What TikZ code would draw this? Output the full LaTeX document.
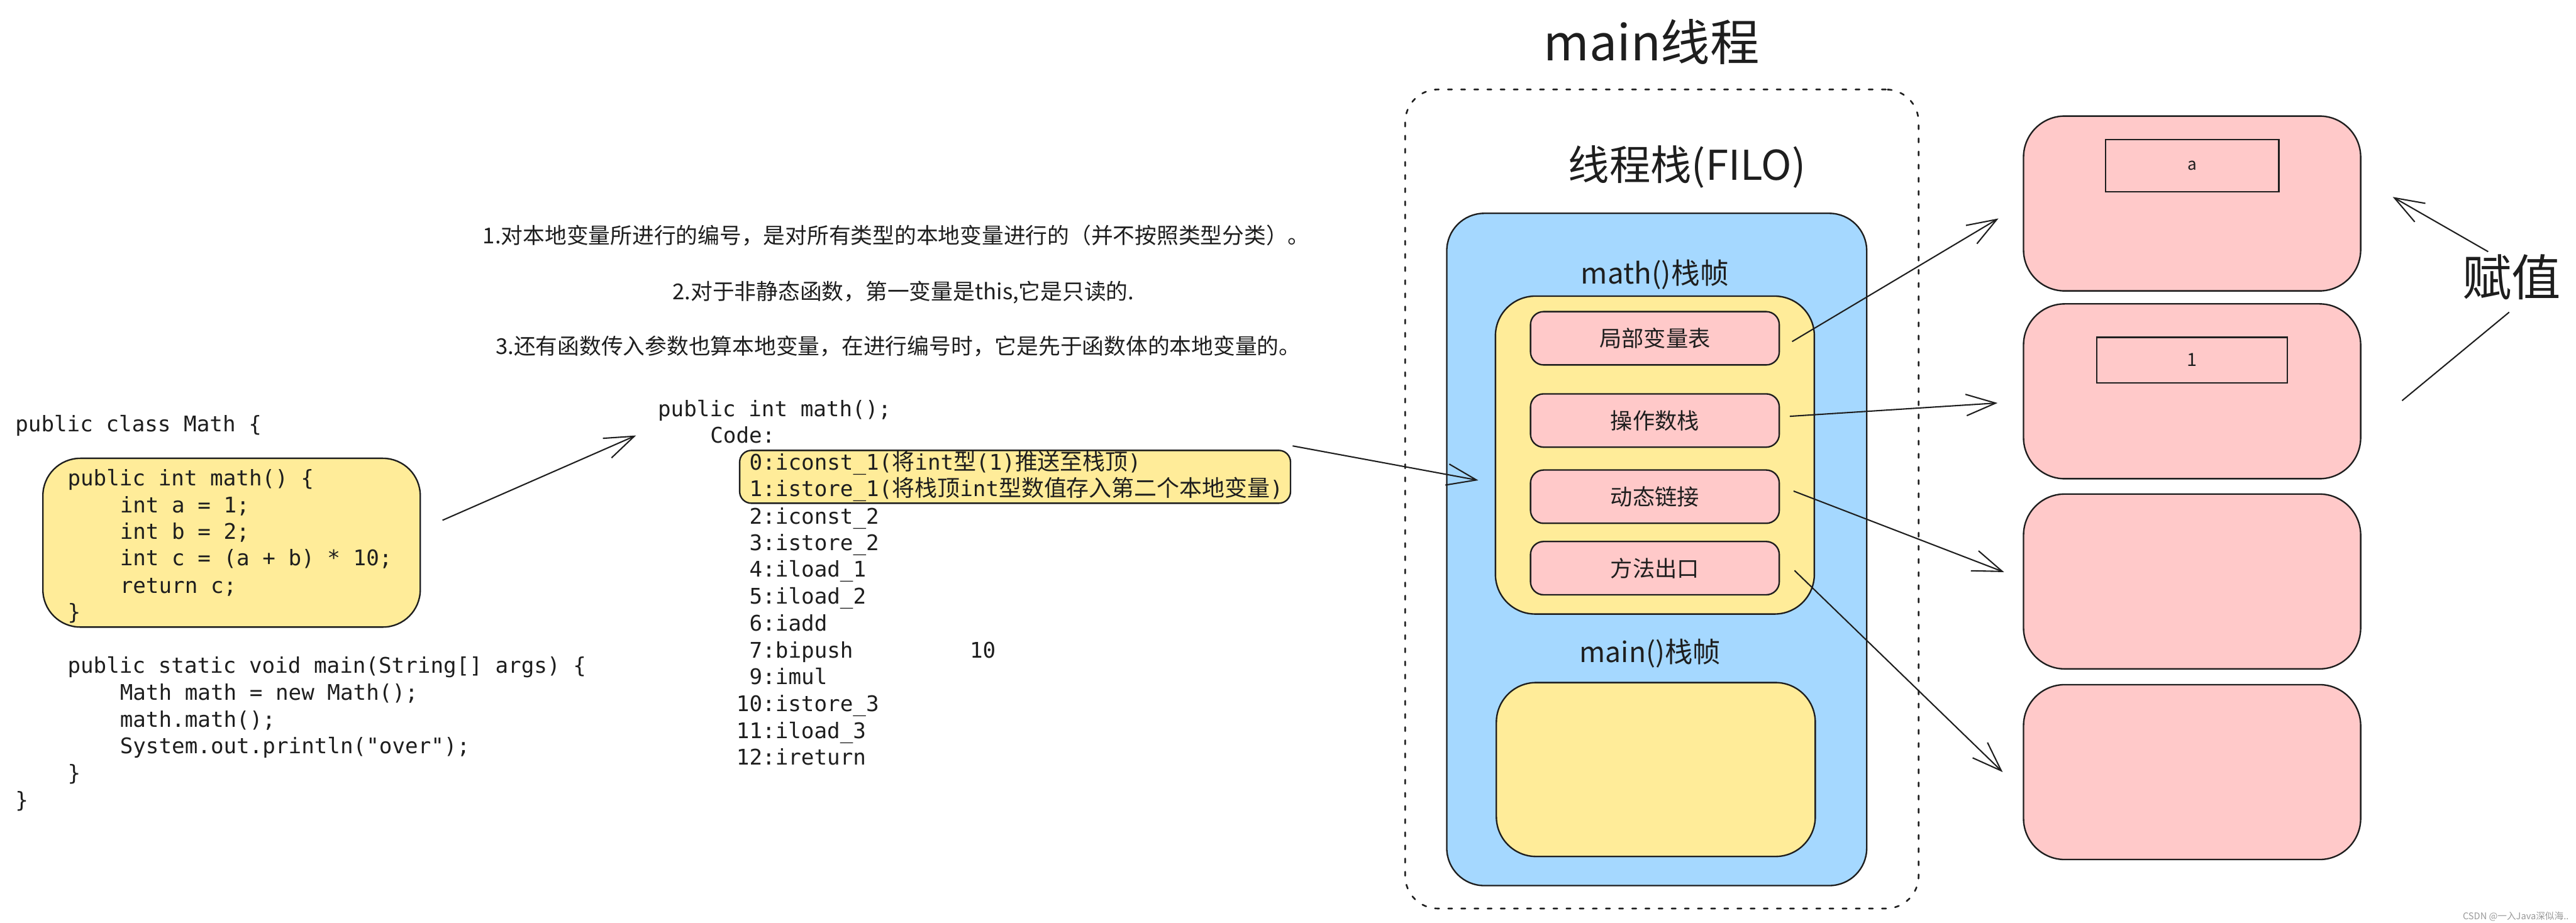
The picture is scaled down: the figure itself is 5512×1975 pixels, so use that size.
\documentclass[tikz,border=0pt]{standalone}
\usepackage{fontspec}
\usetikzlibrary{arrows.meta,calc}
\newfontfamily\cjk{Noto Sans CJK SC}
\newfontfamily\codefont{DejaVu Sans Mono}
\newfontfamily\codecjk[Scale=1.05]{Noto Sans CJK SC}
\newcommand\cc[1]{{\codecjk #1}}
\definecolor{inkc}{HTML}{1E1E1E}
\definecolor{exyellow}{HTML}{FFEC99}
\definecolor{exblue}{HTML}{A5D8FF}
\definecolor{expink}{HTML}{FFC9C9}
\tikzset{
  boxline/.style={draw=inkc, line width=0.9pt},
  yellowbox/.style={boxline, fill=exyellow, rounded corners=0.8cm, inner sep=0pt},
  bluebox/.style={boxline, fill=exblue, rounded corners=0.8cm, inner sep=0pt},
  pinkbox/.style={boxline, fill=expink, rounded corners=0.28cm, inner sep=0pt,
    minimum width=5.32cm, minimum height=1.14cm, text=inkc,
    font={\cjk\fontsize{13.5pt}{16pt}\selectfont}},
  slotbox/.style={boxline, fill=expink, rounded corners=0.88cm, inner sep=0pt,
    minimum width=7.21cm, minimum height=3.74cm},
  valbox/.style={draw=inkc, line width=0.8pt, inner sep=0pt, text=inkc},
  dotbox/.style={draw=inkc, line width=1pt, dash pattern=on 2.5pt off 5.5pt,
    line cap=round, rounded corners=0.7cm, inner sep=0pt},
  codeline/.style={anchor=base west, inner sep=0pt, text=inkc,
    font={\codefont\fontsize{13.1pt}{16pt}\selectfont}},
  note/.style={anchor=base, inner sep=0pt, text=inkc,
    font={\cjk\fontsize{13.3pt}{16pt}\selectfont}},
  title/.style={anchor=base, inner sep=0pt, text=inkc},
  link/.style={draw=inkc, line width=0.8pt, -{Straight Barb[length=18pt,width=13pt]}},
  plainlink/.style={draw=inkc, line width=0.8pt},
}
\begin{document}
\begin{tikzpicture}[x=0.01cm, y=-0.01cm]
\fill[white] (0,0) rectangle (5512,1975);
\useasboundingbox (0,0) rectangle (5512,1975);

% ---------- left source code ----------
\node[yellowbox, minimum width=8.07cm, minimum height=3.61cm] (codebox) at (495.5,1161.5) {};
\node[codeline] (l0) at (32,924) {public class Math \{};
\node[codeline] (l1) at (144,1039) {public int math() \{};
\node[codeline] (l2) at (256,1097) {int a = 1;};
\node[codeline] (l3) at (256,1154) {int b = 2;};
\node[codeline] (l4) at (256,1211) {int c = (a + b) * 10;};
\node[codeline] (l5) at (256,1269) {return c;};
\node[codeline] (l6) at (144,1326) {\}};
\node[codeline] (l7) at (144,1441) {public static void main(String[] args) \{};
\node[codeline] (l8) at (256,1498) {Math math = new Math();};
\node[codeline] (l9) at (256,1556) {math.math();};
\node[codeline] (l10) at (256,1613) {System.out.println("over");};
\node[codeline] (l11) at (144,1670) {\}};
\node[codeline] (l12) at (32,1728) {\}};

% ---------- notes ----------
\node[note] (n1) at (1918,522) {1.对本地变量所进行的编号，是对所有类型的本地变量进行的（并不按照类型分类）。};
\node[note] (n2) at (1933,641) {2.对于非静态函数，第一变量是this,它是只读的.};
\node[note] (n3) at (1922,758) {3.还有函数传入参数也算本地变量，在进行编号时，它是先于函数体的本地变量的。};

% ---------- bytecode ----------
\node[boxline, fill=exyellow, rounded corners=0.25cm, inner sep=0pt,
      minimum width=11.78cm, minimum height=1.13cm] (hl) at (2172,1020.5) {};
\node[codeline] (b0) at (1407,891) {public int math();};
\node[codeline] (b1) at (1519,948) {Code:};
\node[codeline] (b2) at (1603,1006) {0:iconst\_1(\cc{将}int\cc{型}(1)\cc{推送至栈顶})};
\node[codeline] (b3) at (1603,1063) {1:istore\_1(\cc{将栈顶}int\cc{型数值存入第二个本地变量})};
\node[codeline] (b4) at (1603,1121) {2:iconst\_2};
\node[codeline] (b5) at (1603,1178) {3:istore\_2};
\node[codeline] (b6) at (1603,1235) {4:iload\_1};
\node[codeline] (b7) at (1603,1293) {5:iload\_2};
\node[codeline] (b8) at (1603,1350) {6:iadd};
\node[codeline] (b9) at (1603,1408) {7:bipush\ \ \ \ \ \ \ \ \ 10};
\node[codeline] (b10) at (1603,1465) {9:imul};
\node[codeline] (b11) at (1575,1522) {10:istore\_3};
\node[codeline] (b12) at (1575,1580) {11:iload\_3};
\node[codeline] (b13) at (1575,1637) {12:ireturn};

% ---------- main thread ----------
\node[title, font={\cjk\fontsize{30pt}{36pt}\selectfont}] (tmain) at (3534,130) {main线程};
\node[dotbox, minimum width=10.98cm, minimum height=17.52cm] (thread) at (3556,1068) {};
\node[title, font={\cjk\fontsize{25pt}{30pt}\selectfont}] (tstack) at (3610,386) {线程栈(FILO)};
\node[bluebox, minimum width=8.98cm, minimum height=14.38cm] (stack) at (3545,1176) {};
\node[title, font={\cjk\fontsize{17.5pt}{21pt}\selectfont}] (tmath) at (3541,607) {math()栈帧};
\node[yellowbox, rounded corners=0.85cm, minimum width=6.82cm, minimum height=6.80cm] (mathframe) at (3541,974) {};
\node[pinkbox] (lv) at (3541,724) {局部变量表};
\node[pinkbox] (os) at (3541,900) {操作数栈};
\node[pinkbox] (dl) at (3541,1063) {动态链接};
\node[pinkbox] (mx) at (3541,1216) {方法出口};
\node[title, font={\cjk\fontsize{17pt}{21pt}\selectfont}] (tmainf) at (3531,1417) {main()栈帧};
\node[yellowbox, rounded corners=0.85cm, minimum width=6.82cm, minimum height=3.72cm] (mainframe) at (3543,1647) {};

% ---------- right slots ----------
\node[slotbox] (s1) at (4690.5,435.5) {};
\node[slotbox] (s2) at (4690.5,837.5) {};
\node[slotbox] (s3) at (4690.5,1244.5) {};
\node[slotbox] (s4) at (4690.5,1652.5) {};
\node[valbox, minimum width=3.70cm, minimum height=1.11cm, font={\cjk\fontsize{10pt}{12pt}\selectfont}] (va) at (4691,354.5) {a};
\node[valbox, minimum width=4.07cm, minimum height=0.97cm, font={\cjk\fontsize{11pt}{13pt}\selectfont}] (v1) at (4690.5,770.5) {1};
\node[title, font={\cjk\fontsize{30pt}{36pt}\selectfont}] (fz) at (5374,633) {赋值};

% ---------- connectors ----------
\draw[link] ($(codebox.east)+(46,-48)$) -- ($(b1.base west)+(-158,-16)$);
\draw[link] ($(hl.north east)+(3,-8)$) -- ($(mathframe.west)+(-35,54)$);
\draw[link] ($(lv.east)+(26,7)$) -- ($(s1.west)+(-52,32)$);
\draw[link] ($(os.east)+(21,-9)$) -- ($(s2.west)+(-54,25)$);
\draw[link] ($(dl.east)+(29,-12)$) -- ($(s3.west)+(-40,-20)$);
\draw[link] ($(mx.east)+(31,5)$) -- ($(s4.west)+(-43,0)$);
\draw[link] ($(fz.north)+(-50,-5)$) -- ($(s1.east)+(67,-14)$);
\draw[plainlink] ($(fz.south)+(-5,26)$) -- ($(s2.east)+(87,20)$);

% ---------- watermark ----------
\node[anchor=base east, inner sep=0pt, text=black!40, font={\cjk\fontsize{5.6pt}{7pt}\selectfont}] (wm) at (5497,1968) {CSDN @一入Java深似海..};
\end{tikzpicture}
\end{document}
